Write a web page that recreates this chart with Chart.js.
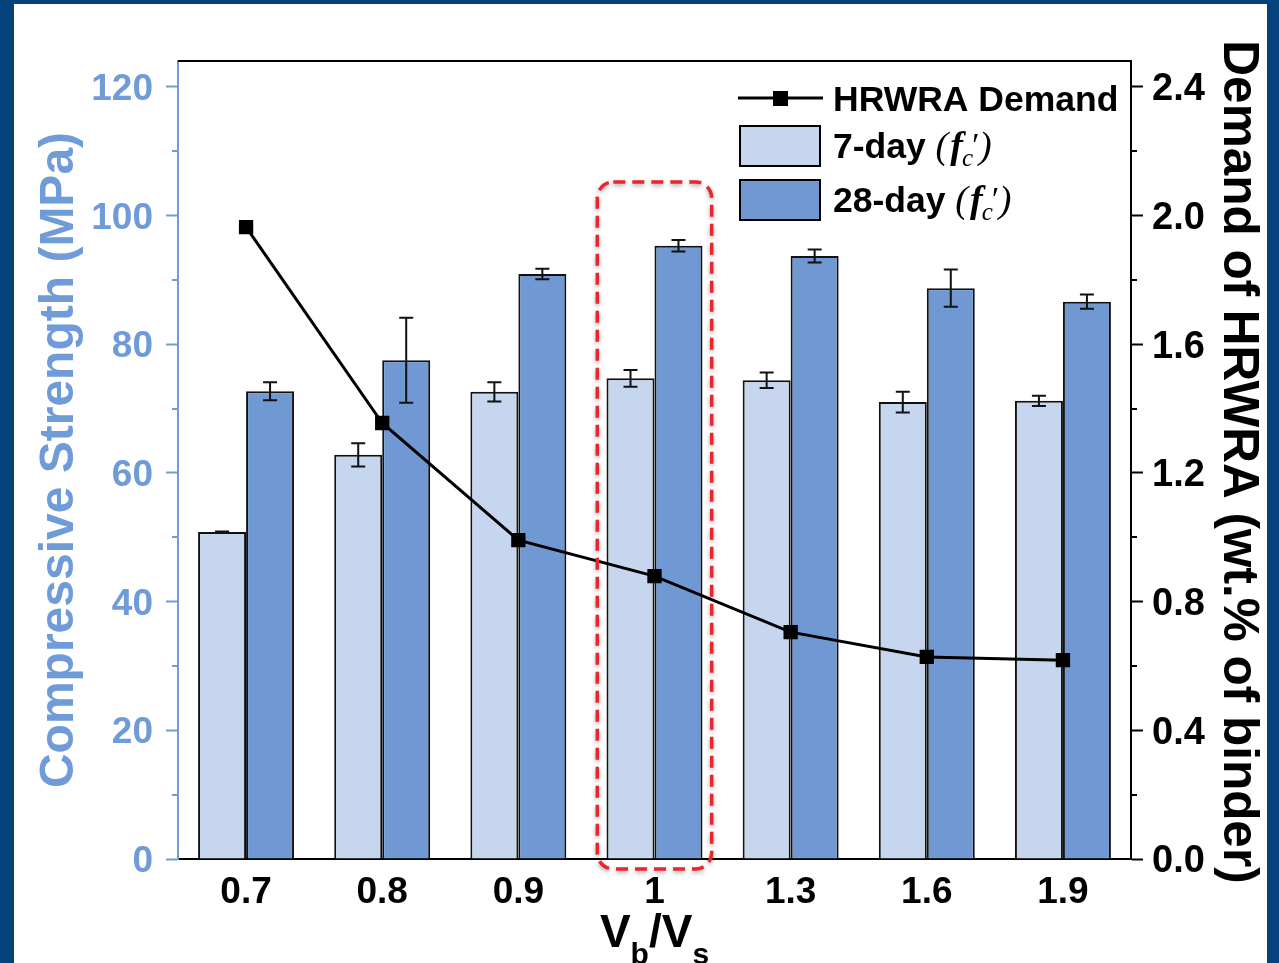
<!DOCTYPE html>
<html><head><meta charset="utf-8">
<script src="https://cdn.jsdelivr.net/npm/chart.js@4.4.1/dist/chart.umd.min.js"></script>
<style>html,body{margin:0;padding:0;background:#04427c;overflow:hidden}canvas{display:block}</style>
</head><body>
<canvas id="c" width="1279" height="963"></canvas>
<script>
// ---- data ----
const categories = ['0.7', '0.8', '0.9', '1', '1.3', '1.6', '1.9'];
const day7 = [50.8, 62.8, 72.6, 74.7, 74.4, 71.0, 71.2];
const day7Err = [0.1, 1.8, 1.5, 1.3, 1.2, 1.6, 0.8];
const day28 = [72.7, 77.5, 90.9, 95.3, 93.7, 88.7, 86.6];
const day28Err = [1.4, 6.6, 0.8, 0.9, 1.0, 2.9, 1.1];
const hrwra = [1.964, 1.355, 0.991, 0.879, 0.705, 0.628, 0.618];
const leftTicks = [0, 20, 40, 60, 80, 100, 120];
const leftMinor = [10, 30, 50, 70, 90, 110];
const rightTicks = [0, 0.4, 0.8, 1.2, 1.6, 2.0, 2.4];
const rightMinor = [0.2, 0.6, 1.0, 1.4, 1.8, 2.2];
const highlightIndex = 3;

const BLUE_AXIS = '#6f9bd8';
const LIGHT_BAR = '#c6d6ee';
const DARK_BAR = '#7099d4';
const FONT = '"Liberation Sans", Arial, sans-serif';
const SERIF = '"Liberation Serif", "Times New Roman", serif';

const errMap = {1: day7Err, 2: day28Err};

const framePlugin = {
  id: 'frame',
  beforeDraw(chart) {
    const ctx = chart.ctx;
    ctx.save();
    ctx.fillStyle = '#04427c';
    ctx.fillRect(0, 0, chart.width, chart.height);
    ctx.fillStyle = '#ffffff';
    ctx.fillRect(14, 4, chart.width - 26, chart.height - 4);
    ctx.restore();
  },
  afterDatasetDraw(chart, args) {
    const errs = errMap[args.index];
    if (!errs) return;
    const ctx = chart.ctx;
    const y = chart.scales.y;
    ctx.save();
    ctx.strokeStyle = '#111';
    ctx.lineWidth = 2;
    args.meta.data.forEach((bar, i) => {
      const v = args.meta._parsed[i].y;
      const top = y.getPixelForValue(v + errs[i]);
      const bot = y.getPixelForValue(v - errs[i]);
      const x = bar.x;
      ctx.beginPath();
      ctx.moveTo(x, top); ctx.lineTo(x, bot);
      ctx.moveTo(x - 7, top); ctx.lineTo(x + 7, top);
      ctx.moveTo(x - 7, bot); ctx.lineTo(x + 7, bot);
      ctx.stroke();
    });
    ctx.restore();
  },
  afterDraw(chart) {
    const ctx = chart.ctx;
    const a = chart.chartArea;
    const ys = chart.scales.y, y2 = chart.scales.y2, xs = chart.scales.x;
    ctx.save();
    // top border
    ctx.strokeStyle = '#000';
    ctx.lineWidth = 2;
    ctx.beginPath(); ctx.moveTo(a.left, a.top); ctx.lineTo(a.right + 1, a.top); ctx.stroke();
    // minor ticks
    ctx.strokeStyle = BLUE_AXIS;
    leftMinor.forEach(v => {
      const p = Math.round(ys.getPixelForValue(v));
      ctx.beginPath(); ctx.moveTo(a.left - 6, p); ctx.lineTo(a.left, p); ctx.stroke();
    });
    ctx.strokeStyle = '#000';
    rightMinor.forEach(v => {
      const p = Math.round(y2.getPixelForValue(v));
      ctx.beginPath(); ctx.moveTo(a.right, p); ctx.lineTo(a.right + 6, p); ctx.stroke();
    });

    // highlight box
    const cw = xs.getPixelForValue(1) - xs.getPixelForValue(0);
    const xc = xs.getPixelForValue(highlightIndex);
    const bx = xc - 0.42 * cw, bw = 0.84 * cw;
    const by = ys.getPixelForValue(105.2), bh = a.bottom + 10 - by;
    ctx.save();
    ctx.shadowColor = 'rgba(0,0,0,0.35)';
    ctx.shadowBlur = 4;
    ctx.shadowOffsetY = 2;
    ctx.strokeStyle = '#e8262d';
    ctx.lineWidth = 3.5;
    ctx.setLineDash([12, 7]);
    ctx.beginPath();
    ctx.roundRect(bx, by, bw, bh, 16);
    ctx.stroke();
    ctx.restore();

    // legend
    const lx = a.right - 391;
    const ly = a.top;
    ctx.fillStyle = '#000';
    ctx.strokeStyle = '#000';
    ctx.lineWidth = 3;
    ctx.beginPath(); ctx.moveTo(lx - 2, ly + 37); ctx.lineTo(lx + 83, ly + 37); ctx.stroke();
    ctx.fillRect(lx + 33, ly + 30, 15, 15);
    ctx.lineWidth = 2;
    ctx.fillStyle = LIGHT_BAR;
    ctx.fillRect(lx, ly + 65, 80, 40); ctx.strokeRect(lx, ly + 65, 80, 40);
    ctx.fillStyle = DARK_BAR;
    ctx.fillRect(lx, ly + 119, 80, 40); ctx.strokeRect(lx, ly + 119, 80, 40);
    ctx.fillStyle = '#000';
    ctx.textBaseline = 'alphabetic';
    ctx.textAlign = 'left';
    ctx.font = 'bold 35.5px ' + FONT;
    ctx.fillText('HRWRA Demand', lx + 93, ly + 50);
    const drawFc = (label, tx, base) => {
      ctx.font = 'bold 35.5px ' + FONT;
      ctx.fillText(label, tx, base);
      let x = tx + ctx.measureText(label).width;
      ctx.font = 'italic 38px ' + SERIF;
      ctx.fillText('(', x, base); x += ctx.measureText('(').width + 2;
      ctx.font = 'bold italic 38px ' + SERIF;
      ctx.fillText('f', x, base); x += ctx.measureText('f').width - 1;
      ctx.font = 'italic 25px ' + SERIF;
      ctx.fillText('c', x, base + 8);
      const cwid = ctx.measureText('c').width;
      ctx.font = 'italic 34px ' + SERIF;
      ctx.fillText('\u2032', x + cwid - 3, base - 2);
      x += cwid + 6;
      ctx.font = 'italic 38px ' + SERIF;
      ctx.fillText(')', x, base);
    };
    drawFc('7-day ', lx + 93, ly + 97);
    drawFc('28-day ', lx + 93, ly + 151);

    // axis titles
    ctx.fillStyle = BLUE_AXIS;
    ctx.font = 'bold 48px ' + FONT;
    ctx.textAlign = 'center';
    ctx.save();
    ctx.translate(73, (a.top + a.bottom) / 2);
    ctx.rotate(-Math.PI / 2);
    ctx.fillText('Compressive Strength (MPa)', 0, 0);
    ctx.restore();

    ctx.fillStyle = '#000';
    ctx.font = 'bold 49.5px ' + FONT;
    ctx.save();
    ctx.translate(1224, (a.top + a.bottom) / 2 + 2);
    ctx.rotate(Math.PI / 2);
    ctx.fillText('Demand of HRWRA (wt.% of binder)', 0, 0);
    ctx.restore();

    // x title V_b/V_s
    const parts = [['V', 46, 0], ['b', 30, 17], ['/', 46, 0], ['V', 46, 0], ['s', 30, 17]];
    ctx.textAlign = 'left';
    let total = 0;
    parts.forEach(p => { ctx.font = 'bold ' + p[1] + 'px ' + FONT; total += ctx.measureText(p[0]).width; });
    let x = (a.left + a.right) / 2 - total / 2;
    parts.forEach(p => {
      ctx.font = 'bold ' + p[1] + 'px ' + FONT;
      ctx.fillText(p[0], x, 947 + p[2]);
      x += ctx.measureText(p[0]).width;
    });
    ctx.restore();
  }
};

new Chart(document.getElementById('c'), {
  data: {
    labels: categories,
    datasets: [
      {
        type: 'line', label: 'HRWRA Demand', data: hrwra, yAxisID: 'y2', order: 0,
        borderColor: '#000', borderWidth: 3, pointStyle: 'rect', pointRadius: 8,
        pointBackgroundColor: '#000', pointBorderColor: '#000', tension: 0
      },
      {
        type: 'bar', label: "7-day (f'c)", data: day7, yAxisID: 'y', order: 1,
        backgroundColor: LIGHT_BAR, borderColor: '#111', borderWidth: 2,
        categoryPercentage: 0.705, barPercentage: 1
      },
      {
        type: 'bar', label: "28-day (f'c)", data: day28, yAxisID: 'y', order: 1,
        backgroundColor: DARK_BAR, borderColor: '#111', borderWidth: 2,
        categoryPercentage: 0.705, barPercentage: 1
      }
    ]
  },
  options: {
    responsive: false,
    animation: false,
    layout: { padding: { top: 61, left: 0, right: 0, bottom: 0 } },
    plugins: { legend: { display: false }, tooltip: { enabled: false } },
    scales: {
      x: {
        type: 'category',
        grid: { drawOnChartArea: false, drawTicks: false },
        border: { color: '#000', width: 2 },
        ticks: { color: '#000', font: { family: FONT, size: 37, weight: 'bold' }, padding: 12, maxRotation: 0 },
        afterFit: s => { s.height = 104; }
      },
      y: {
        position: 'left', min: 0, max: 124,
        afterBuildTicks: s => { s.ticks = leftTicks.map(v => ({ value: v })); },
        grid: { drawOnChartArea: false, tickLength: 12, tickColor: BLUE_AXIS, tickWidth: 2 },
        border: { color: BLUE_AXIS, width: 2 },
        ticks: { color: BLUE_AXIS, font: { family: FONT, size: 37, weight: 'bold' }, padding: 13, labelOffset: 3,
                 callback: v => String(v) },
        afterFit: s => { s.width = 178; }
      },
      y2: {
        position: 'right', min: 0, max: 2.48,
        afterBuildTicks: s => { s.ticks = rightTicks.map(v => ({ value: v })); },
        grid: { drawOnChartArea: false, tickLength: 12, tickColor: '#000', tickWidth: 2 },
        border: { color: '#000', width: 2 },
        ticks: { color: '#000', font: { family: FONT, size: 38, weight: 'bold' }, padding: 9, labelOffset: 3,
                 callback: v => Number(v).toFixed(1) },
        afterFit: s => { s.width = 148; }
      }
    }
  },
  plugins: [framePlugin]
});
</script>
</body></html>
